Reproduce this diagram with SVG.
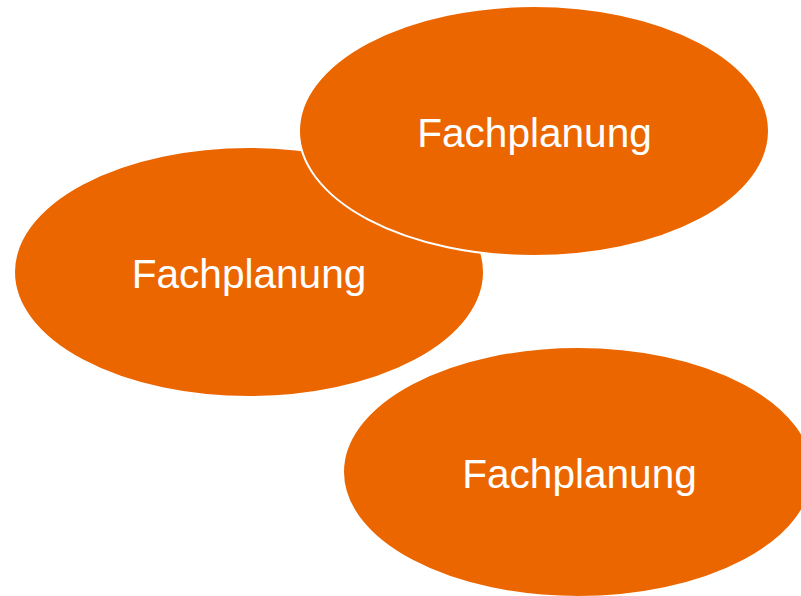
<svg xmlns="http://www.w3.org/2000/svg" width="801" height="596" viewBox="0 0 801 596">
<style>
.n{fill:#EC6600;stroke:#FFFFFF;stroke-width:2}
.t{font-family:"Liberation Sans",Arial,sans-serif;font-size:40.6px;fill:#FFFFFF;text-anchor:middle}
</style>
<rect width="801" height="596" fill="#FFFFFF"/>
<g id="connectors"></g>
<g id="node2"><ellipse class="n" cx="249" cy="272" rx="235" ry="125"/><text class="t" x="249" y="288">Fachplanung</text></g>
<g id="node1"><ellipse class="n" cx="534" cy="131" rx="235" ry="125"/><text class="t" x="534.5" y="147">Fachplanung</text></g>
<g id="node3"><ellipse class="n" cx="578" cy="472" rx="235" ry="125"/><text class="t" x="579.5" y="488">Fachplanung</text></g>
</svg>
